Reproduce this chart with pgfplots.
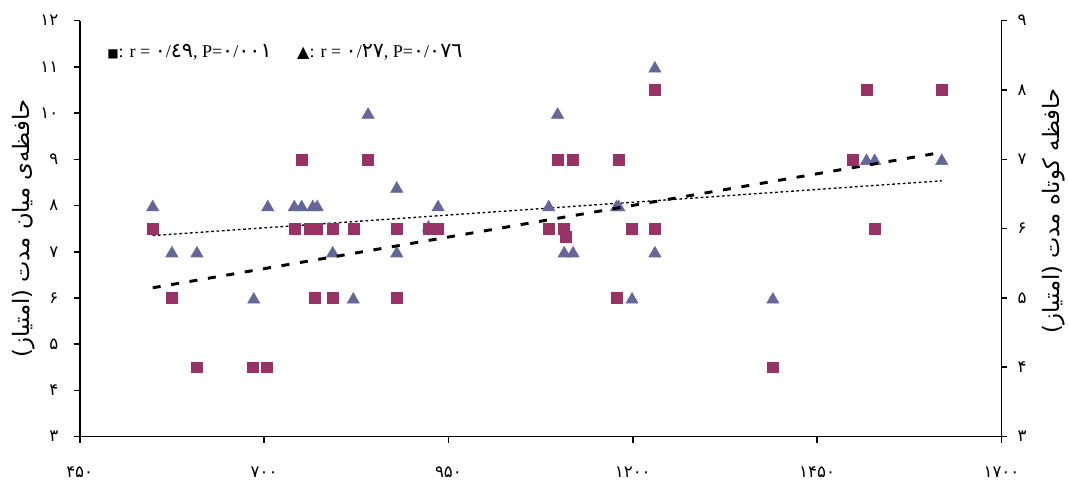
\documentclass[border=0pt]{standalone}
\usepackage{fontspec}
\setmainfont{Liberation Serif}
\newfontfamily\arabicfont[Script=Arabic]{DejaVu Sans}
\newfontfamily\symfont{DejaVu Sans}
\usepackage{pgfplots}
\usepackage{pgfplotstable}
\pgfplotsset{compat=1.18}
\TeXXeTstate=1
\definecolor{sq}{RGB}{153,51,102}
\definecolor{tri}{RGB}{102,102,153}
\newcommand\ad[1]{{\arabicfont\fontsize{15.5}{15}\selectfont #1}}

% middle-term memory (left axis)
\pgfplotstableread{
x y
549 7.5
575 6
609 4.5
685 4.5
704 4.5
741 7.5
751 9
762 7.5
772 7.5
769 6
793 7.5
793 6
821 7.5
841 9
880 7.5
880 6
923 7.5
936 7.5
1086 7.5
1098 9
1107 7.5
1109 7.33
1119 9
1178 6
1181 9
1199 7.5
1230 10.5
1230 7.5
1390 4.5
1498 9
1517 10.5
1528 7.5
1619 10.5
}\squares

% short-term memory (right axis)
\pgfplotstableread{
x y
549 6.333
575 5.667
609 5.667
686 5
705 6.333
741 6.333
751 6.333
766 6.333
772 6.333
793 5.667
821 5
841 7.667
880 6.6
880 5.667
923 6.04
936 6.333
1086 6.333
1098 7.667
1107 5.667
1119 5.667
1178 6.333
1181 6.333
1199 5
1230 8.333
1230 5.667
1390 5
1517 7
1528 7
1619 7
}\triangles

\begin{document}
\begin{tikzpicture}
\pgfplotsset{
  common/.style={
    scale only axis, width=691.4pt, height=312pt,
    xmin=450, xmax=1700,
    axis line style={-, line width=1.2pt, black},
    every outer x axis line/.append style={-},
    every outer y axis line/.append style={-},
    tick style={line width=1.2pt, black},
    major tick length=4.5pt,
    tick align=outside,
    ticklabel style={font=\arabicfont\fontsize{12.5}{14}\selectfont},
  }
}
% secondary axis: short-term memory
\begin{axis}[common,
  ymin=3, ymax=9,
  axis y line*=right, axis x line=none,
  ytick={3,...,9},
  yticklabels={۳,۴,۵,۶,۷,۸,۹},
  yticklabel style={xshift=4pt},
  ylabel={\arabicfont\beginR حافظه کوتاه مدت (امتیاز)\endR},
  ylabel style={at={(rel axis cs:1.057,0.5425)}, anchor=center, font=\fontsize{17}{19}\selectfont},
]
\addplot[only marks, mark=triangle*, mark size=5.3pt, color=tri, mark options={yshift=-1.3pt}] table {\triangles};
\addplot[no marks, black, line width=1pt, dash pattern=on 2pt off 2pt] coordinates {(549,5.90) (1619,6.69)};
\end{axis}
% main axis: middle-term memory
\begin{axis}[common, name=ax,
  ymin=3, ymax=12,
  axis x line*=bottom, axis y line*=left,
  xtick={450,700,950,1200,1450,1700},
  xticklabels={۴۵۰,۷۰۰,۹۵۰,۱۲۰۰,۱۴۵۰,۱۷۰۰},
  xticklabel style={yshift=-14.5pt},
  ytick={3,...,12},
  yticklabels={۳,۴,۵,۶,۷,۸,۹,۱۰,۱۱,۱۲},
  yticklabel style={xshift=-8pt},
  ylabel={\arabicfont\beginR حافظه‌ی میان مدت (امتیاز)\endR},
  ylabel style={at={(rel axis cs:-0.0605,0.5)}, anchor=center, font=\fontsize{17}{19}\selectfont},
]
\addplot[only marks, mark=square*, mark size=4.1pt, color=sq] table {\squares};
\addplot[no marks, black, line width=2.2pt, dash pattern=on 6pt off 8pt] coordinates {(549,6.22) (1619,9.15)};
\node[anchor=west, inner sep=0pt, font=\fontsize{13.5}{15}\selectfont] at (rel axis cs:0.0296,0.925)
  {{\symfont\fontsize{9}{10}\selectfont■}: r = \ad{۰}/\ad{٤۹}, P=\ad{۰}/\ad{۰۰۱}};
\node[anchor=west, inner sep=0pt, font=\fontsize{13.5}{15}\selectfont] at (rel axis cs:0.2357,0.925)
  {{\symfont\fontsize{12}{13}\selectfont▲}: r = \ad{۰}/\ad{۲۷}, P=\ad{۰}/\ad{۰۷٦}};
\end{axis}
\pgfresetboundingbox
\path[use as bounding box] ([shift={(-59.8pt,-34pt)}]ax.south west) rectangle ([shift={(49.9pt,15.5pt)}]ax.north east);
\end{tikzpicture}
\end{document}
